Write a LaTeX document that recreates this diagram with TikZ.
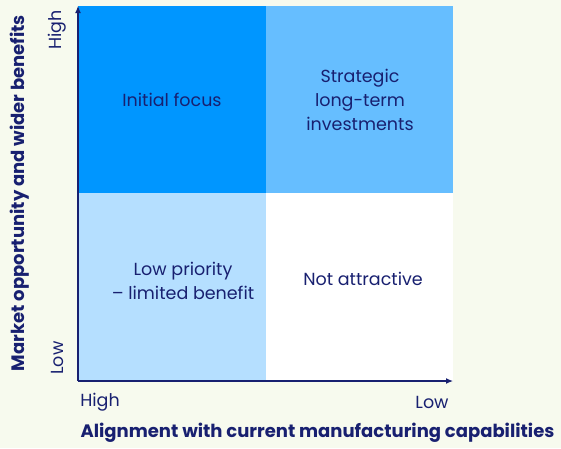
\documentclass[tikz,border=0pt]{standalone}
\usepackage{fontspec}
\setmainfont{Poppins}
\usepackage{xcolor}
\usetikzlibrary{arrows.meta,positioning,calc}
\definecolor{bgcream}{RGB}{247,250,238}
\definecolor{navy}{RGB}{24,32,112}
\definecolor{darkblue}{RGB}{0,150,255}
\definecolor{midblue}{RGB}{102,190,255}
\definecolor{paleblue}{RGB}{181,223,255}

\begin{document}
\begin{tikzpicture}[x=1pt, y=-1pt,
    quadtext/.style={text=navy, align=center, font=\fontsize{17.5}{24}\selectfont},
    ticktext/.style={text=navy, font=\fontsize{17.5}{20}\selectfont},
    axistitle/.style={text=navy, font=\bfseries\fontsize{18}{20}\selectfont}]
    % Background
    \fill[bgcream] (0,0) rectangle (561,448);
    \useasboundingbox (0,0) rectangle (561,448);

    % Quadrants
    \fill[darkblue] (78,6) rectangle (266,193);
    \fill[midblue] (266,6) rectangle (453,193);
    \fill[paleblue] (78,193) rectangle (266,381);
    \fill[white] (266,193) rectangle (453,381);

    % Axes
    \coordinate (o) at (78,381);
    \coordinate (ytop) at (78,6);
    \coordinate (xend) at (453,381);
    \draw[navy, line width=1.2pt, -{Latex[length=7pt,width=6pt]}] (o) -- (ytop);
    \draw[navy, line width=1.2pt, -{Latex[length=7pt,width=6pt]}] (o) -- (xend);

    % Quadrant labels
    \node[quadtext] (tl) at (172,100) {Initial focus};
    \node[quadtext] (tr) at (360,100) {Strategic\\long-term\\investments};
    \node[quadtext] (bl) at (183,281) {Low priority\\– limited benefit};
    \node[quadtext] (br) at (363,279) {Not attractive};

    % Tick labels
    \node[ticktext, rotate=90] (yhigh) at (57,30) {High};
    \node[ticktext, rotate=90] (ylow) at (57,358) {Low};
    \node[ticktext] (xhigh) at (100,402) {High};
    \node[ticktext] (xlow) at (432,402) {Low};

    % Axis titles
    \node[axistitle, rotate=90] (ytitle) at (20,193) {Market opportunity and wider benefits};
    \node[axistitle] (xtitle) at (317.5,433) {Alignment with current manufacturing capabilities};
\end{tikzpicture}
\end{document}
